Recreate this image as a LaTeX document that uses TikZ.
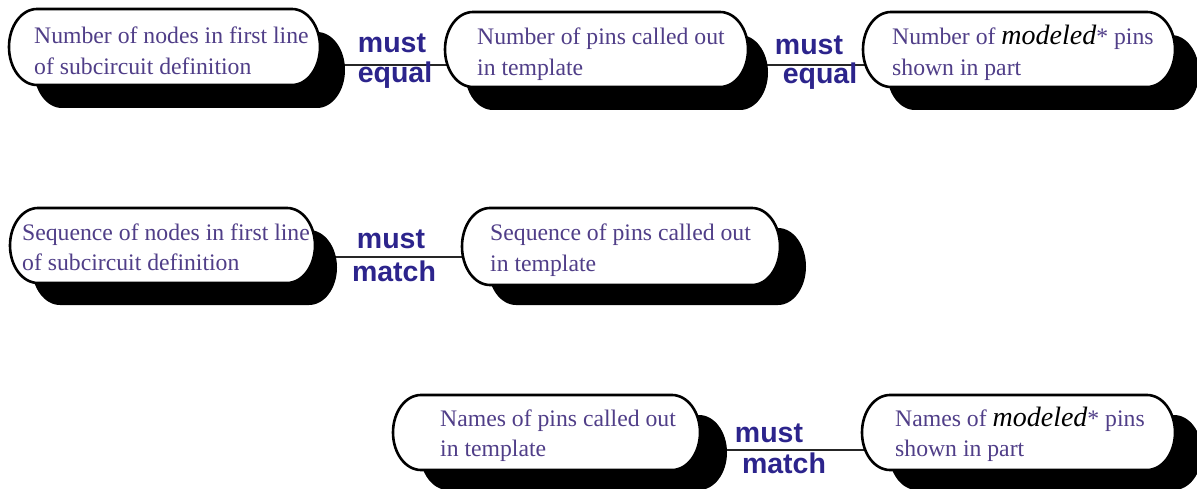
\documentclass[tikz,border=0pt]{standalone}
\usepackage{fontspec}
\setmainfont{Liberation Serif}
\setsansfont{Liberation Sans}
\usetikzlibrary{backgrounds}
\definecolor{txtcol}{RGB}{80,62,136}
\definecolor{labcol}{RGB}{44,36,140}
\newcommand\pillbox[7]{%
  \fill[black] (#2+28+#6,-#3-#7) -- (#4-28+#6,-#3-#7)
    arc[start angle=90,end angle=-90,x radius=28,y radius={(#5-#3)/2}]
    -- (#2+28+#6,-#5-#7)
    arc[start angle=270,end angle=90,x radius=28,y radius={(#5-#3)/2}] -- cycle;
  \filldraw[fill=white,draw=black,line width=2.6pt] (#2+28,-#3) -- (#4-28,-#3)
    arc[start angle=90,end angle=-90,x radius=28,y radius={(#5-#3)/2}]
    -- (#2+28,-#5)
    arc[start angle=270,end angle=90,x radius=28,y radius={(#5-#3)/2}] -- cycle;
  \coordinate (#1) at ({(#2+#4)/2},{-(#3+#5)/2});
}
\tikzset{
  boxtext/.style={anchor=base west,inner sep=0pt,align=left,text=txtcol,
    font=\fontsize{23.7}{30.5}\selectfont},
  lab/.style={anchor=base,inner sep=0pt,text=labcol,
    font=\sffamily\bfseries\fontsize{28.5}{30}\selectfont},
  conn/.style={line width=1.6pt,draw=black!85}
}
\newcommand\mdl{{\color{black}\fontsize{28}{30}\selectfont\itshape modeled}*}
\begin{document}
\begin{tikzpicture}[x=1pt,y=1pt]
\useasboundingbox (0,0) rectangle (1197,-489);
% boxes
\pillbox{A}{9}{9}{320}{85}{25}{23}
\pillbox{B}{445}{12}{748}{87}{20}{23}
\pillbox{C}{863}{12}{1175}{87}{24}{23}
\pillbox{D}{10}{208}{315}{283}{22}{22}
\pillbox{E}{462}{208}{780}{285}{26}{20}
\pillbox{F}{393}{395}{700}{470}{27}{20}
\pillbox{G}{862}{395}{1175}{470}{27}{20}
% connector heights
\coordinate (yAB) at (0,-65);
\coordinate (yBC) at (0,-65);
\coordinate (yDE) at (0,-257);
\coordinate (yFG) at (0,-450);
\begin{pgfonlayer}{background}
\draw[conn] (A |- yAB) -- (B |- yAB);
\draw[conn] (B |- yBC) -- (C |- yBC);
\draw[conn] (D |- yDE) -- (E |- yDE);
\draw[conn] (F |- yFG) -- (G |- yFG);
\end{pgfonlayer}
% texts (anchor = baseline of the last line)
\node[boxtext] (At) at (34,-74.5) {Number of nodes in first line\\of subcircuit definition};
\node[boxtext] (Bt) at (477,-75.5) {Number of pins called out\\in template};
\node[boxtext] (Ct) at (892,-75.5) {Number of \mdl\ pins\\shown in part};
\node[boxtext] (Dt) at (22,-270.5) {Sequence of nodes in first line\\of subcircuit definition};
\node[boxtext] (Et) at (490,-271.5) {Sequence of pins called out\\in template};
\node[boxtext] (Ft) at (440,-456.5) {Names of pins called out\\in template};
\node[boxtext] (Gt) at (895,-456.5) {Names of \mdl\ pins\\shown in part};
% labels
\node[lab] (l1a) at (392,-53) {must};
\node[lab] (l1b) at (395,-83) {equal};
\node[lab] (l2a) at (809,-55) {must};
\node[lab] (l2b) at (820,-84) {equal};
\node[lab] (l3a) at (391,-249) {must};
\node[lab] (l3b) at (394,-281) {match};
\node[lab] (l4a) at (769,-442) {must};
\node[lab] (l4b) at (784,-473) {match};
\end{tikzpicture}
\end{document}
